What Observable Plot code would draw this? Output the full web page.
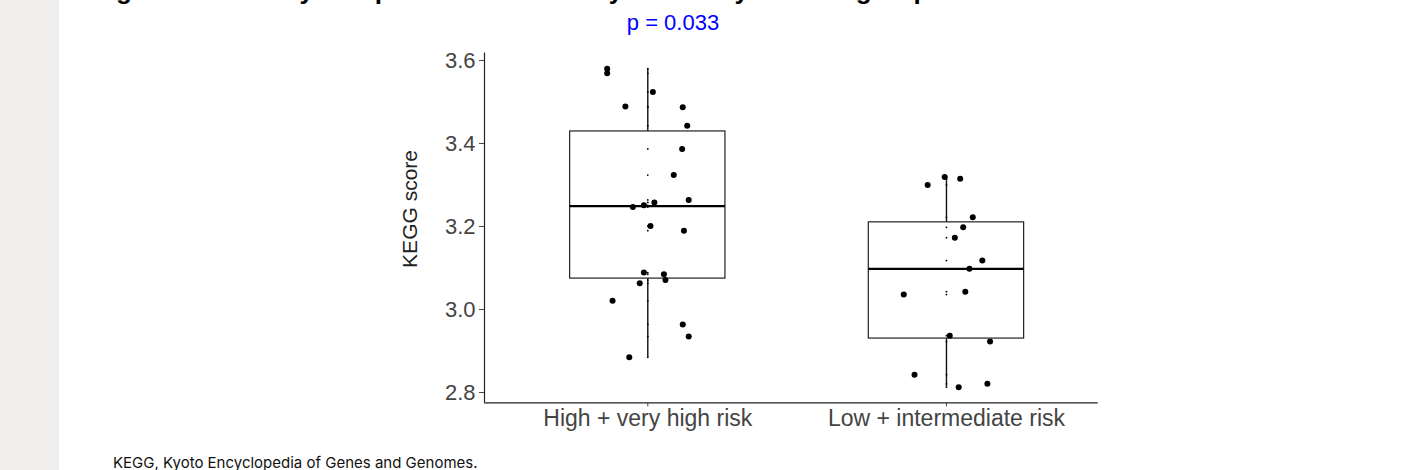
<!DOCTYPE html>
<html><head><meta charset="utf-8">
<script src="https://cdn.jsdelivr.net/npm/d3@7"></script>
<script src="https://cdn.jsdelivr.net/npm/@observablehq/plot@0.6"></script>
<style>
html,body{margin:0;padding:0;background:#fff;width:1402px;height:470px;overflow:hidden;position:relative;}
#strip{position:absolute;left:0;top:0;width:59px;height:470px;background:#f0efed;}
#title{position:absolute;left:93px;top:-25px;font:bold 26px "Liberation Sans",Arial,sans-serif;line-height:30px;color:#000;white-space:nowrap;}
#plabel{position:absolute;left:673px;top:10px;transform:translateX(-50%);font:22px "Liberation Sans",Arial,sans-serif;line-height:25px;color:#0000ff;white-space:nowrap;}
#chart{position:absolute;left:0;top:0;}
#caption{position:absolute;left:113px;top:455px;font:15px Inter,"Noto Sans",sans-serif;line-height:15px;color:#111;white-space:nowrap;}
</style></head>
<body>
<div id="strip"></div>
<div id="title">Figure 4. Pathway comparison of the study cohort by the risk group</div>
<div id="plabel">p = 0.033</div>
<div id="chart"></div>
<div id="caption">KEGG, Kyoto Encyclopedia of Genes and Genomes.</div>
<script>
const groups = ["High + very high risk", "Low + intermediate risk"];
const highValues = [3.580, 3.569, 3.524, 3.489, 3.487, 3.443, 3.387, 3.324, 3.264, 3.258, 3.251, 3.247, 3.201, 3.190, 3.089, 3.085, 3.071, 3.063, 3.021, 2.964, 2.935, 2.885];
const highJitter = [-0.136, -0.136, 0.017, -0.075, 0.117, 0.132, 0.115, 0.087, 0.137, 0.022, -0.013, -0.050, 0.009, 0.121, -0.013, 0.054, 0.059, -0.027, -0.118, 0.117, 0.137, -0.062];
const lowValues = [3.319, 3.315, 3.300, 3.222, 3.198, 3.173, 3.118, 3.098, 3.036, 3.043, 2.937, 2.923, 2.843, 2.821, 2.813];
const lowJitter = [-0.006, 0.046, -0.063, 0.088, 0.056, 0.028, 0.120, 0.077, -0.143, 0.063, 0.011, 0.146, -0.107, 0.137, 0.041];
const yTicks = [2.8, 3.0, 3.2, 3.4, 3.6];

const points = [
  ...highValues.map((v, i) => ({pos: 1, value: v, jitter: highJitter[i]})),
  ...lowValues.map((v, i) => ({pos: 2, value: v, jitter: lowJitter[i]}))
];
const stats = [highValues, lowValues].map((vals, i) => {
  const s = vals.slice().sort(d3.ascending);
  return {pos: i + 1, min: d3.min(s), max: d3.max(s),
    q1: d3.quantile(s, 0.25), median: d3.quantile(s, 0.5), q3: d3.quantile(s, 0.75)};
});
const hw = 0.26;
const xDomain = [0.4533, 2.508];
const yDomain = [2.775, 3.618];

const chart = Plot.plot({
  width: 1402, height: 440,
  marginLeft: 484, marginRight: 304.3, marginTop: 52.5, marginBottom: 37.6,
  style: {fontFamily: '"Liberation Sans", Arial, sans-serif', fontSize: "22px", background: "transparent", overflow: "visible"},
  x: {domain: xDomain, axis: null},
  y: {domain: yDomain, axis: null},
  marks: [
    Plot.ruleX(stats, {x: "pos", y1: "min", y2: "max", stroke: "#111", strokeWidth: 1.4}),
    Plot.rect(stats, {x1: d => d.pos - hw, x2: d => d.pos + hw, y1: "q1", y2: "q3", fill: "white", stroke: "#222", strokeWidth: 1.2}),
    Plot.ruleY(stats, {y: "median", x1: d => d.pos - hw, x2: d => d.pos + hw, stroke: "#000", strokeWidth: 2.4}),
    Plot.dot(points, {x: "pos", y: "value", r: 0.9, fill: "#000", stroke: null}),
    Plot.dot(points, {x: d => d.pos + d.jitter, y: "value", r: 3, fill: "#000", stroke: null}),
    Plot.ruleX([xDomain[0]], {stroke: "#222", strokeWidth: 1.2}),
    Plot.ruleY([yDomain[0]], {stroke: "#222", strokeWidth: 1.2}),
    Plot.axisY({ticks: yTicks, tickFormat: d3.format(".1f"), tickSize: 5, tickPadding: 4, label: null, color: "#444", fontSize: 22}),
    Plot.axisX({ticks: [1, 2], tickFormat: d => groups[d - 1], tickSize: 4, tickPadding: 3, label: null, color: "#444", fontSize: 23}),
    Plot.text(["KEGG score"], {frameAnchor: "left", dx: -74, dy: -19, rotate: -90, textAnchor: "middle", fontSize: 21, fill: "#222"})
  ]
});
document.getElementById("chart").appendChild(chart);
</script>
</body></html>
